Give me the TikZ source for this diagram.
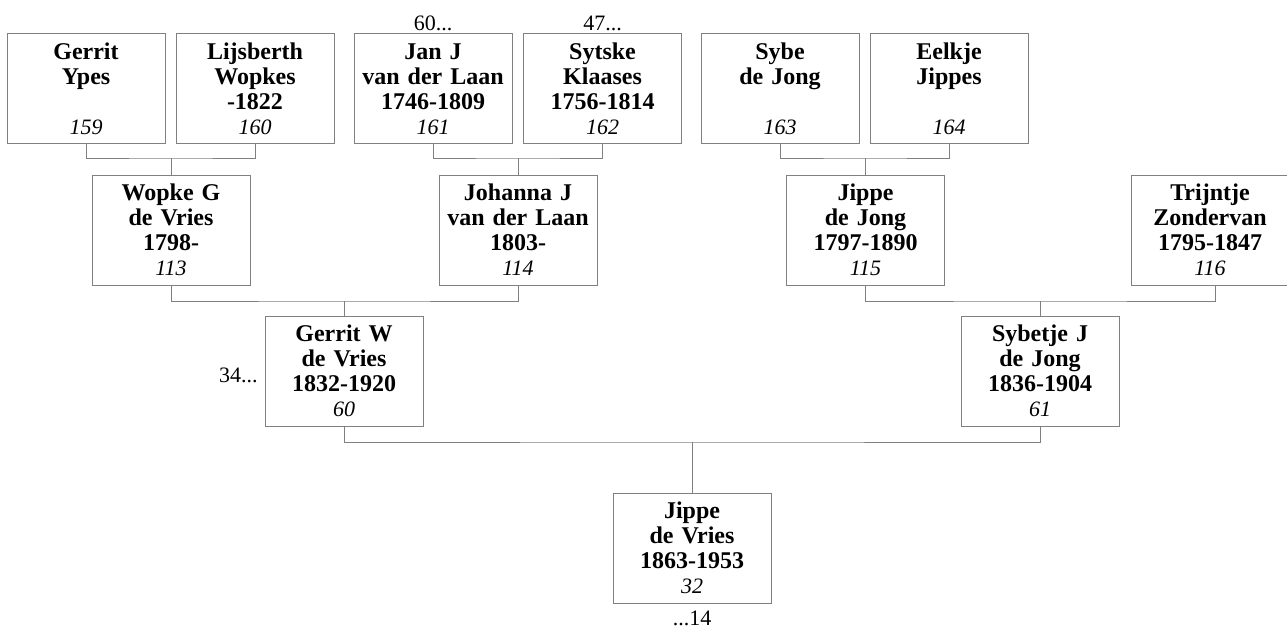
\documentclass[tikz,border=0pt]{standalone}
\usepackage{fontspec}
\setmainfont{Liberation Serif}
\definecolor{linegray}{RGB}{128,128,128}
\begin{document}
\begin{tikzpicture}[x=0.75pt,y=-0.75pt,
  person/.style={draw=linegray, line width=0.75pt, fill=white, inner sep=0pt,
    minimum width=118.5pt, minimum height=82.5pt, text width=118pt, align=center,
    font=\fontsize{18}{18.75}\selectfont\bfseries,
    execute at begin node={\vphantom{bi}}},
  link/.style={draw=linegray, line width=0.75pt},
  extra/.style={inner sep=0pt, font=\fontsize{16.5}{18.75}\selectfont}]
\useasboundingbox (0,0) rectangle (1287,628);
\newcommand{\num}[1]{{\fontsize{16.5}{18.75}\selectfont\normalfont\itshape #1}}
% row 1
\node[person] (n159) at (86,88.5) {Gerrit\\Ypes\\\mbox{}\\\num{159}};
\node[person] (n160) at (255,88.5) {Lijsberth\\Wopkes\\-1822\\\num{160}};
\node[person] (n161) at (433,88.5) {Jan J\\van der Laan\\1746-1809\\\num{161}};
\node[person] (n162) at (602.5,88.5) {Sytske\\Klaases\\1756-1814\\\num{162}};
\node[person] (n163) at (780,88.5) {Sybe\\de Jong\\\mbox{}\\\num{163}};
\node[person] (n164) at (949,88.5) {Eelkje\\Jippes\\\mbox{}\\\num{164}};
% row 2
\node[person] (n113) at (171,230) {Wopke G\\de Vries\\1798-\\\num{113}};
\node[person] (n114) at (518,230) {Johanna J\\van der Laan\\1803-\\\num{114}};
\node[person] (n115) at (865.5,230) {Jippe\\de Jong\\1797-1890\\\num{115}};
\node[person, minimum width=114pt] (n116) at (1210,230) {Trijntje\\Zondervan\\1795-1847\\\num{116}};
% row 3
\node[person] (n60) at (344,371) {Gerrit W\\de Vries\\1832-1920\\\num{60}};
\node[person] (n61) at (1040,371) {Sybetje J\\de Jong\\1836-1904\\\num{61}};
% row 4
\node[person] (n32) at (692,548) {Jippe\\de Vries\\1863-1953\\\num{32}};
% junctions
\coordinate (j1) at (171,158);
\coordinate (j2) at (518,158);
\coordinate (j3) at (865.5,158);
\coordinate (j4) at (344,301);
\coordinate (j5) at (1040,301);
\coordinate (j6) at (692,442);
% connectors
\draw[link] (n159.south) |- (j1) -| (n160.south);
\draw[link] (j1) -- (n113.north);
\draw[link] (n161.south) |- (j2) -| (n162.south);
\draw[link] (j2) -- (n114.north);
\draw[link] (n163.south) |- (j3) -| (n164.south);
\draw[link] (j3) -- (n115.north);
\draw[link] (n113.south) |- (j4) -| (n114.south);
\draw[link] (j4) -- (n60.north);
\draw[link] (n115.south) |- (j5) -| ([xshift=3.75pt]n116.south);
\draw[link] (j5) -- (n61.north);
\draw[link] (n60.south) |- (j6) -| (n61.south);
\draw[link] (j6) -- (n32.north);
% extra labels
\node[extra, anchor=base] (l60) at (433,30.5) {60...};
\node[extra, anchor=base] (l47) at (602.5,30.5) {47...};
\node[extra, anchor=base east] (l34) at (258,382) {34...};
\node[extra, anchor=base] (l14) at (692,625) {...14};
\end{tikzpicture}
\end{document}
